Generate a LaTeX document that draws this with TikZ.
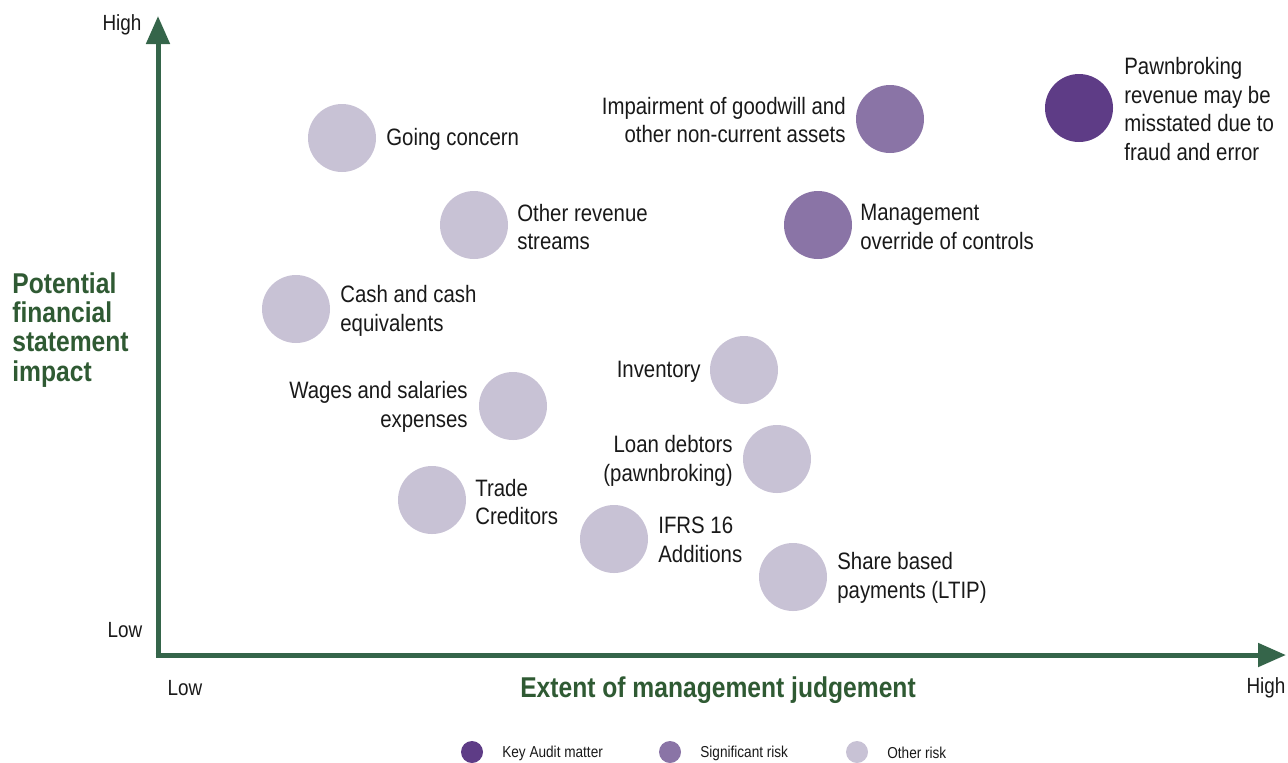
\documentclass[tikz,border=0pt]{standalone}
\usepackage{fontspec}
\setmainfont{Liberation Sans}[FakeStretch=0.86]
\usetikzlibrary{arrows.meta}
\definecolor{kam}{HTML}{5E3C86}
\definecolor{sig}{HTML}{8A74A6}
\definecolor{oth}{HTML}{C8C2D5}
\definecolor{axgreen}{HTML}{35654A}
\definecolor{titlegreen}{HTML}{2F5A33}
\tikzset{
  x=0.02cm, y=-0.02cm,
  bub/.style={circle, minimum size=68*0.02cm, inner sep=0pt, draw=none},
  kamb/.style={bub, fill=kam},
  sigb/.style={bub, fill=sig},
  othb/.style={bub, fill=oth},
  lab/.style={inner sep=0pt, font=\fontsize{13.5}{16.4}\selectfont, text=black!90},
  labL/.style={lab, anchor=west, align=left},
  labR/.style={lab, anchor=east, align=right},
  axlab/.style={inner sep=0pt, font=\fontsize{12.5}{15}\selectfont, text=black!90},
  ttl/.style={inner sep=0pt, font=\fontsize{16.3}{16.6}\selectfont\bfseries, text=titlegreen},
  axis/.style={draw=axgreen, line width=5*0.02cm, -{Triangle[length=28*0.02cm, width=23*0.02cm]}},
  legb/.style={circle, minimum size=22*0.02cm, inner sep=0pt},
  leglab/.style={inner sep=0pt, anchor=west, font=\fontsize{9}{11}\selectfont, text=black!90}
}
\begin{document}
\begin{tikzpicture}
\useasboundingbox (0,0) rectangle (1288,762);
% axes
\coordinate (O) at (158,655);
\coordinate (ytop) at (158,16);
\coordinate (xend) at (1286,655);
\draw[axis] ([yshift=-2.5*0.02cm]O) -- (ytop);
\draw[axis] ([xshift=-2.5*0.02cm]O) -- (xend);
% axis labels
\node[axlab] (yhigh) at (122,25) {High};
\node[axlab] (ylow) at (125,630) {Low};
\node[axlab] (xlow) at (185,688) {Low};
\node[axlab] (xhigh) at (1266,688) {High};
\node[ttl, anchor=west, align=left] (ytitle) at (12,330) {Potential\\financial\\statement\\impact};
\node[ttl] (xtitle) at (718,690) {Extent of management judgement};
% bubbles
\node[othb] (gc) at (342,138) {};
\node[labL] (gcl) at (386,139) {Going concern};
\node[othb] (ors) at (474,225) {};
\node[labL] (orsl) at (517,227) {Other revenue\\streams};
\node[othb] (cash) at (296,309) {};
\node[labL] (cashl) at (340,311) {Cash and cash\\equivalents};
\node[othb] (wag) at (513,406) {};
\node[labR] (wagl) at (468,407) {Wages and salaries\\expenses};
\node[othb] (tc) at (432,500) {};
\node[labL] (tcl) at (475,502) {Trade\\Creditors};
\node[othb] (ifrs) at (614,539) {};
\node[labL] (ifrsl) at (658,540) {IFRS 16\\Additions};
\node[othb] (sbp) at (793,577) {};
\node[labL] (sbpl) at (837,578) {Share based\\payments (LTIP)};
\node[othb] (loan) at (777,459) {};
\node[labR] (loanl) at (733,461) {Loan debtors\\(pawnbroking)};
\node[othb] (inv) at (744,370) {};
\node[labR] (invl) at (701,372) {Inventory};
\node[sigb] (mgmt) at (818,225) {};
\node[labL] (mgmtl) at (860,227) {Management\\override of controls};
\node[sigb] (imp) at (890,119) {};
\node[labR] (impl) at (846,120) {Impairment of goodwill and\\other non-current assets};
\node[kamb] (pawn) at (1079,108) {};
\node[labL] (pawnl) at (1124,109) {Pawnbroking\\revenue may be\\misstated due to\\fraud and error};
% legend
\node[legb, fill=kam] (lk) at (472,752) {};
\node[leglab] (lkl) at (502,753) {Key Audit matter};
\node[legb, fill=sig] (ls) at (670,752) {};
\node[leglab] (lsl) at (700,753) {Significant risk};
\node[legb, fill=oth] (lo) at (857,752) {};
\node[leglab] (lol) at (887,753) {Other risk};
\end{tikzpicture}
\end{document}
